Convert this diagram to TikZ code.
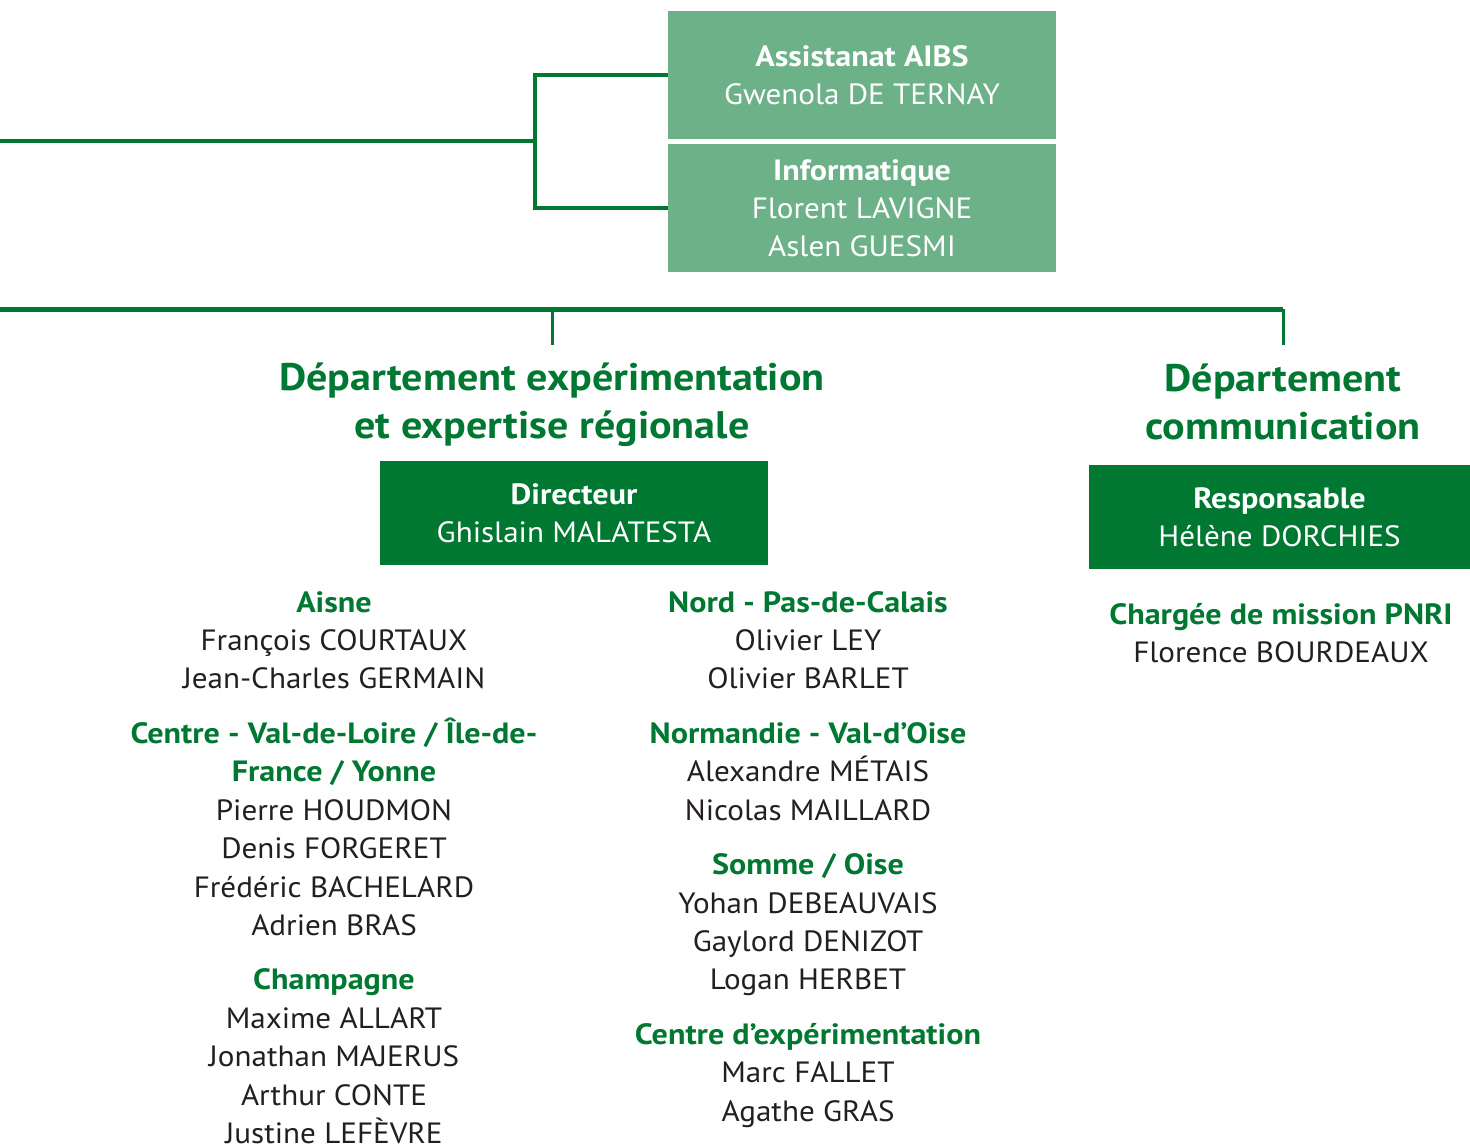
\documentclass[tikz,border=0pt]{standalone}
\usepackage{fontspec}
\setmainfont{PT Sans}[FakeStretch=1.06, BoldFeatures={FakeStretch=1.095}]
\definecolor{vert}{RGB}{0,120,50}
\definecolor{vertclair}{RGB}{108,177,136}
\definecolor{texte}{RGB}{35,31,32}
\newcommand{\hd}[1]{{\color{vert}\bfseries #1}}
\tikzset{every picture/.style={line width=0.75pt}}
\tikzset{
  lien/.style={draw=vert, line width=3pt},
  bus/.style={draw=vert, line width=3.75pt},
  descente/.style={draw=vert, line width=2.25pt},
  boite/.style={draw=none, inner sep=0pt, align=center, text=white, font=\fontsize{22}{28.5}\selectfont},
  nom/.style={anchor=base, inner sep=0pt, text=texte, font=\fontsize{22}{28.5}\selectfont},
  titre/.style={align=center, inner sep=0pt, text=vert, font=\bfseries\fontsize{28.8}{36}\selectfont}
}

\begin{document}
\begin{tikzpicture}[x=0.75pt,y=0.75pt,yscale=-1,xscale=1]
	\useasboundingbox (0,0) rectangle (1470,1147);

	%Shape: Rectangle [Assistanat]
	\node[boite, fill=vertclair, minimum width=291pt, minimum height=96pt] (aibs) at (862,75) {\textbf{Assistanat AIBS}\\Gwenola DE TERNAY};
	%Shape: Rectangle [Informatique]
	\node[boite, fill=vertclair, minimum width=291pt, minimum height=96pt] (info) at (862,208) {\textbf{Informatique}\\Florent LAVIGNE\\Aslen GUESMI};

	%Straight Lines [top bracket]
	\coordinate (gauche1) at (0,141);
	\coordinate (bras) at (535,141);
	\draw[lien] (aibs.west) -| (bras) |- (info.west);
	\draw[lien] (gauche1) -- (bras);

	%Straight Lines [departments bus]
	\coordinate (gauche2) at (0,309);
	\coordinate (hautexp) at (552,345);
	\coordinate (hautcom) at (1283,345);
	\draw[bus] (gauche2) -- (hautcom |- gauche2);
	\draw[descente] (hautexp |- gauche2) -- (hautexp);
	\draw[descente] (hautcom |- gauche2) -- (hautcom);

	% Text Node
	\node[titre] (dexp) at (552,405) {Département expérimentation\\et expertise régionale};
	% Text Node
	\node[titre] (dcom) at (1283,402) {Département\\communication};

	%Shape: Rectangle [Directeur]
	\node[boite, fill=vert, minimum width=291pt, minimum height=78pt] (dir) at (574,513) {\textbf{Directeur}\\Ghislain MALATESTA};
	%Shape: Rectangle [Responsable]
	\node[boite, fill=vert, minimum width=285.75pt, minimum height=78pt] (resp) at (1279.5,517) {\textbf{Responsable}\\Hélène DORCHIES};

	% Text Nodes: left column
	\foreach \y/\nm [count=\i] in {612/\hd{Aisne}, 650/François COURTAUX, 688/Jean-Charles GERMAIN,
	    743/{\hd{Centre - Val-de-Loire / Île-de-}}, 781/{\hd{France / Yonne}}, 820/Pierre HOUDMON,
	    858/Denis FORGERET, 897/Frédéric BACHELARD, 935/Adrien BRAS, 989/\hd{Champagne},
	    1028/Maxime ALLART, 1066/Jonathan MAJERUS, 1105/Arthur CONTE, 1143/Justine LEFÈVRE}
	  \node[nom] (g\i) at (334,\y) {\nm};

	% Text Nodes: right column
	\foreach \y/\nm [count=\i] in {612/\hd{Nord - Pas-de-Calais}, 650/Olivier LEY, 688/Olivier BARLET,
	    743/\hd{Normandie - Val-d’Oise}, 781/Alexandre MÉTAIS, 820/Nicolas MAILLARD,
	    874/{\hd{Somme / Oise}}, 913/Yohan DEBEAUVAIS, 951/Gaylord DENIZOT, 989/Logan HERBET,
	    1044/\hd{Centre d’expérimentation}, 1082/Marc FALLET, 1121/Agathe GRAS}
	  \node[nom] (d\i) at (808,\y) {\nm};

	% Text Nodes: communication
	\node[nom] (pnri) at (1281,624) {\hd{Chargée de mission PNRI}};
	\node[nom] (flo) at (1281,662) {Florence BOURDEAUX};

\end{tikzpicture}
\end{document}
